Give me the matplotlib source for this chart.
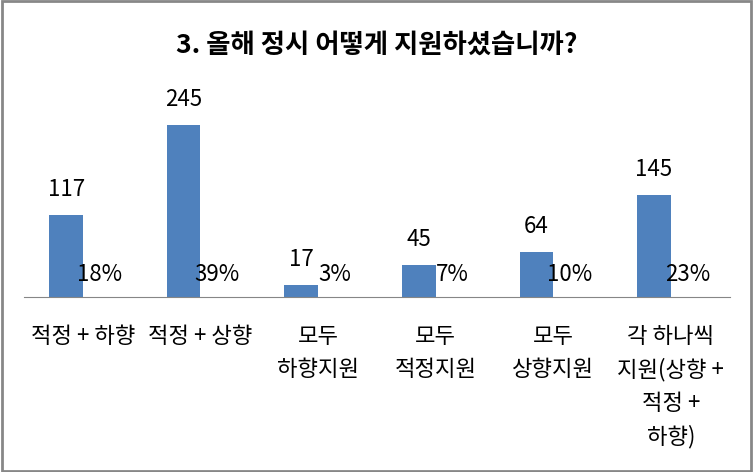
import matplotlib.pyplot as plt
from matplotlib.patches import Rectangle

plt.rcParams['font.family'] = ['Noto Sans CJK KR', 'DejaVu Sans']

# data
categories = ['적정 + 하향', '적정 + 상향', '모두\n하향지원', '모두\n적정지원',
              '모두\n상향지원', '각 하나씩\n지원(상향 +\n적정 +\n하향)']
counts = [117, 245, 17, 45, 64, 145]
ratios = [0.18, 0.39, 0.03, 0.07, 0.10, 0.23]
ratio_labels = ['18%', '39%', '3%', '7%', '10%', '23%']
title = '3. 올해 정시 어떻게 지원하셨습니까?'

fig = plt.figure(figsize=(7.53, 4.72), dpi=100)
ax = fig.add_axes([0.032, 0.371, 0.937, 0.446])

x = list(range(len(categories)))
w = 1 / 3.5
b1 = ax.bar([i - w / 2 for i in x], counts, width=w, color='#4F81BD')
b2 = ax.bar([i + w / 2 for i in x], ratios, width=w, color='none')

ax.bar_label(b1, labels=[str(c) for c in counts], padding=10, fontsize=16)
ax.bar_label(b2, labels=ratio_labels, padding=8, fontsize=16)

ax.set_xlim(-0.5, len(categories) - 0.5)
ax.set_ylim(0, 300)
ax.set_xticks(x)
ax.set_xticklabels(categories, fontsize=16, linespacing=1.55)
ax.tick_params(axis='x', length=0, pad=20)
ax.set_yticks([])
for s in ['top', 'right', 'left']:
    ax.spines[s].set_visible(False)
ax.spines['bottom'].set_color('#868686')

fig.text(0.5, 0.905, title, ha='center', va='center', fontsize=19, fontweight='bold')

# grey frame around the chart
fig.patches.append(Rectangle((0.002, 0.003), 0.995, 0.994, transform=fig.transFigure,
                             fill=False, edgecolor='#878787', linewidth=2))

fig.savefig('out.png', dpi=100)
